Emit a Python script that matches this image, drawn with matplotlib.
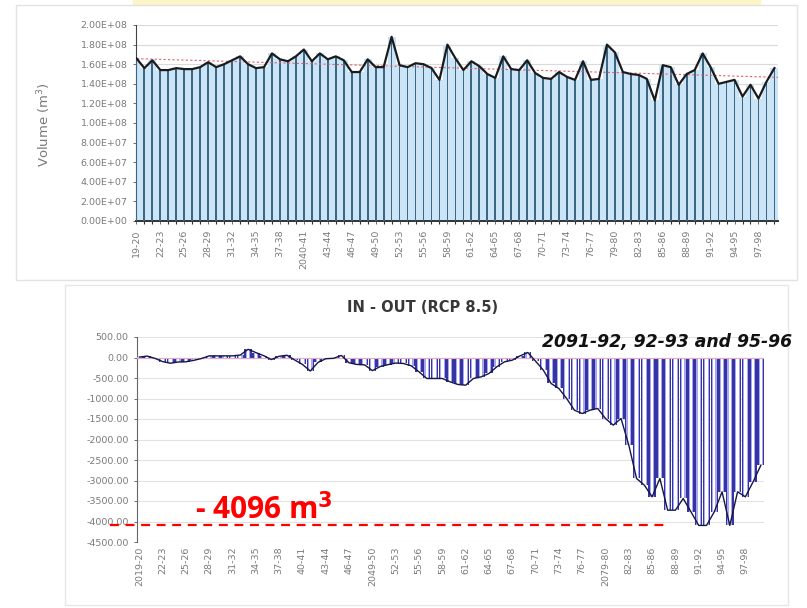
import matplotlib.pyplot as plt
import numpy as np
from matplotlib.patches import Rectangle
import matplotlib.transforms as mtransforms

# hydrological years 2019-20 ... 2099-00
start_years = list(range(2019, 2100))

# storage volume (m3), top panel
volume = [1.66, 1.56, 1.64, 1.54, 1.54, 1.56, 1.55, 1.55, 1.57, 1.62,
          1.57, 1.60, 1.64, 1.68, 1.60, 1.56, 1.57, 1.71, 1.65, 1.63,
          1.68, 1.75, 1.63, 1.71, 1.65, 1.68, 1.64, 1.52, 1.52, 1.65,
          1.57, 1.57, 1.88, 1.59, 1.57, 1.61, 1.60, 1.56, 1.44, 1.80,
          1.66, 1.54, 1.63, 1.58, 1.50, 1.46, 1.68, 1.55, 1.54, 1.64,
          1.51, 1.46, 1.45, 1.52, 1.47, 1.44, 1.63, 1.44, 1.45, 1.80,
          1.72, 1.52, 1.50, 1.49, 1.45, 1.23, 1.59, 1.57, 1.39, 1.50,
          1.54, 1.71, 1.57, 1.40, 1.42, 1.44, 1.27, 1.39, 1.25, 1.42,
          1.56]
volume = [v * 1e8 for v in volume]

# IN - OUT balance (m3), bottom panel
net = [10, 35, -20, -100, -140, -110, -105, -70, -25, 40,
       40, 40, 40, 60, 200, 120, 45, -50, 30, 55,
       -60, -170, -330, -120, -30, -20, 50, -130, -170, -180,
       -320, -220, -175, -135, -146, -203, -350, -512, -512, -512,
       -593, -658, -675, -512, -472, -390, -228, -106, -65, 40,
       122, -89, -309, -634, -756, -1000, -1285, -1366, -1285, -1244,
       -1488, -1650, -1488, -2138, -2951, -3114, -3398, -2951, -3724, -3724,
       -3439, -3764, -4096, -4096, -3764, -3276, -4096, -3276, -3398, -3032,
       -2626]


def year_label(y, long_years):
    if y in long_years:
        return f"{y}-{str(y + 1)[-2:]}"
    return f"{str(y)[-2:]}-{str(y + 1)[-2:]}"


x = np.arange(len(start_years))
tick_idx = x[::3]

fig = plt.figure(figsize=(8.07, 6.08), dpi=100)
W, H = 807, 608


def fig_box(x0, y0, x1, y1):
    return [x0 / W, 1 - y1 / H, (x1 - x0) / W, (y1 - y0) / H]


# background frames
fig.patches.append(Rectangle((133 / W, 1 - 5 / H), 627 / W, 5 / H,
                             transform=fig.transFigure, color='#fcf6c6', zorder=-2))
fig.patches.append(Rectangle((16 / W, 1 - 280 / H), 781 / W, 275 / H, transform=fig.transFigure,
                             facecolor='white', edgecolor='#e2e2e2', lw=1, zorder=-2))
fig.patches.append(Rectangle((65 / W, 1 - 605 / H), 723 / W, 320 / H, transform=fig.transFigure,
                             facecolor='white', edgecolor='#e6e6e6', lw=1, zorder=-2))

tick_kw = dict(labelsize=6.8, labelcolor='#7a7a7a', color='#555555', length=2.5, width=0.6)

# ---- top: volume ----
ax1 = fig.add_axes(fig_box(136, 25, 778, 221))
ax1.patch.set_alpha(0)
ax1.bar(x, volume, width=1.0, color='#cbe5f6', zorder=2)
ax1.bar(x, volume, width=0.22, color='#3b6784', zorder=3)
ax1.plot(x, volume, color='#1b1b1b', lw=1.6, zorder=5)
coef = np.polyfit(x, volume, 1)
ax1.plot([-0.5, 80.5], np.polyval(coef, [-0.5, 80.5]), color='#e06070', lw=0.8,
         ls=(0, (2, 2)), zorder=4)
ax1.set_xlim(-0.05, 80.45)
ax1.set_ylim(0, 2e8)
ax1.set_yticks(np.arange(0, 2.01e8, 2e7))
ax1.set_yticklabels([f"{v:.2E}" for v in np.arange(0, 2.01e8, 2e7)])
ax1.yaxis.grid(True, color='#dadada', lw=0.8, zorder=0)
ax1.set_axisbelow(True)
ax1.set_xticks(tick_idx)
ax1.set_xticklabels([year_label(start_years[i], {2040}) for i in tick_idx], rotation=90)
ax1.tick_params(axis='both', **tick_kw)
ax1.tick_params(axis='x', direction='out')
ax1.set_xticks(x, minor=True)
ax1.tick_params(axis='x', which='minor', length=2, color='#333333', width=0.8)
for s in ['top', 'right']:
    ax1.spines[s].set_visible(False)
ax1.spines['left'].set_color('#444444')
ax1.spines['bottom'].set_color('#333333')
ax1.spines['bottom'].set_linewidth(1.4)
fig.text(44 / W, 1 - 125 / H, 'Volume (m$^3$)', fontsize=9.5, color='#7a7a7a',
         rotation=90, ha='center', va='center')

# ---- bottom: IN - OUT ----
ax2 = fig.add_axes(fig_box(137, 337, 764, 542))
ax2.patch.set_alpha(0)
ax2.bar(x, net, width=0.95, color='#3434a4', zorder=2)
ax2.bar(x, net, width=0.6, color='#a8a8ea', zorder=3)
ax2.bar(x, net, width=0.3, color='#ffffff', zorder=3)
ax2.plot(x, net, color='#16164a', lw=1.0, zorder=5)
ax2.axhline(0, color='#e8a8c8', lw=0.8, zorder=4)
ax2.set_xlim(-0.3, 80.4)
ax2.set_ylim(-4500, 500)
yt = np.arange(-4500, 501, 500)
ax2.set_yticks(yt)
ax2.set_yticklabels([f"{v:.2f}" for v in yt])
ax2.yaxis.grid(True, color='#e2e2e2', lw=0.8, zorder=0)
ax2.set_axisbelow(True)
ax2.set_xticks(tick_idx)
ax2.set_xticklabels([year_label(start_years[i], {2019, 2049, 2079}) for i in tick_idx],
                    rotation=90)
ax2.tick_params(axis='both', **tick_kw)
ax2.tick_params(axis='x', length=0)
for s in ['top', 'right', 'bottom']:
    ax2.spines[s].set_visible(False)
ax2.spines['left'].set_color('#666666')
fig.text(423 / W, 1 - 307 / H, 'IN - OUT (RCP 8.5)', fontsize=10.5, fontweight='bold',
         color='#383838', ha='center', va='center')

# minimum marker
trans = mtransforms.blended_transform_factory(fig.transFigure, ax2.transData)
ax2.plot([110 / W, 670 / W], [min(net), min(net)], transform=trans, color='#ff0000',
         lw=1.6, ls=(0, (4, 3)), clip_on=False, zorder=6)
fig.text(195 / W, 1 - 510 / H, f"- {abs(min(net))} m$^\\mathbf{{3}}$", color='#ff0000',
         fontsize=21.5, fontweight='bold', va='center', ha='left', family='Open Sans')
fig.text(542 / W, 1 - 342 / H, '2091-92, 92-93 and 95-96', fontsize=12.4,
         fontweight='bold', style='oblique', color='#111111', va='center', ha='left',
         family='DejaVu Sans')

fig.savefig('out.png', dpi=100)
